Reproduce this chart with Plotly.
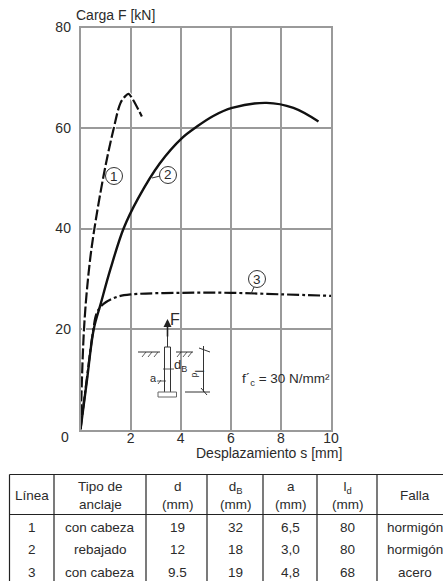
import plotly.graph_objects as go

W, H = 443, 581
X0, X1, Y0, Y1 = 80.5, 331.0, 429.5, 27.5

s1 = [0, 0.14, 0.32, 0.51, 0.94, 1.33, 1.6, 1.8, 1.92, 2.05, 2.45]
f1 = [0, 20, 31, 38.5, 51, 60, 65, 66.4, 66.8, 66, 62.3]
s2 = [0, 0.25, 0.53, 0.8, 1.2, 1.72, 2.3, 3.17, 4.05, 4.65, 5.3, 6.05, 7.43, 8.5, 9.5]
f2 = [0, 9.5, 20, 24.9, 32, 40, 46, 53, 58, 60.3, 62.4, 64, 65, 64, 61.3]
s3 = [0, 0.25, 0.5, 0.65, 0.92, 1.46, 2.05, 4, 6, 8, 10]
f3 = [0, 10, 19.5, 23.2, 25, 26.4, 26.9, 27.2, 27.2, 26.9, 26.6]

x_ticks = [2, 4, 6, 8, 10]
y_ticks = [20, 40, 60, 80]

table_header = ["Línea", "Tipo de<br>anclaje", "d<br>(mm)", "d<sub>B</sub><br>(mm)",
                "a<br>(mm)", "l<sub>d</sub><br>(mm)", "Falla"]
linea = ["1", "2", "3"]
tipo = ["con cabeza", "rebajado", "con cabeza"]
d = ["19", "12", "9.5"]
d_b = ["32", "18", "19"]
a = ["6,5", "3,0", "4,8"]
l_d = ["80", "80", "68"]
falla = ["hormigón", "hormigón", "acero"]

INK = "#2b2b2b"
GRID = "#9a9a9a"
FONT = "Liberation Sans"


def dx(px):
    return (px - X0) / (X1 - X0) * 10


def dy(py):
    return (Y0 - py) / (Y0 - Y1) * 80


def pxx(px):
    return px / W


def pxy(py):
    return 1 - py / H


fig = go.Figure()
fig.add_trace(go.Scatter(x=s1, y=f1, mode="lines", line=dict(color="#ffffff", width=4, shape="spline", smoothing=1), hoverinfo="skip"))
fig.add_trace(go.Scatter(x=s2, y=f2, mode="lines", line=dict(color="#111111", width=2.4, shape="spline", smoothing=1)))
fig.add_trace(go.Scatter(x=s1, y=f1, mode="lines", line=dict(color="#111111", width=2.2, dash="11px,3px", shape="spline", smoothing=1)))
fig.add_trace(go.Scatter(x=s3, y=f3, mode="lines", line=dict(color="#111111", width=2.2, dash="12px,3px,3px,3px", shape="spline", smoothing=1)))

shapes = []


def line(x0, y0, x1, y1, color="#333333", width=1, layer="above"):
    shapes.append(dict(type="line", xref="x", yref="y", x0=dx(x0), y0=dy(y0), x1=dx(x1), y1=dy(y1),
                       line=dict(color=color, width=width), layer=layer))


# white gap behind the inset drawing
shapes.append(dict(type="rect", xref="x", yref="y", x0=dx(156), x1=dx(183.5), y0=dy(429), y1=dy(304),
                   fillcolor="white", line=dict(width=0), layer="below"))

# anchor sketch
line(164.5, 347, 164.5, 392)
line(170.5, 347, 170.5, 392)
line(164.5, 347, 170.5, 347)
line(167.5, 347, 167.5, 326, width=1)
line(138, 352, 160, 352)
line(176, 352, 193, 352)
for hx in [146, 152, 158, 181, 187, 192]:
    line(hx, 352, hx - 4, 357, width=0.8)
for px0, py0, px1, py1 in [(158, 392, 176.5, 392), (158, 392, 158, 397), (176.5, 392, 176.5, 397), (158, 397, 176.5, 397)]:
    line(px0, py0, px1, py1, color="#666666")
line(185, 392, 210, 392)
line(203.5, 346, 203.5, 392)
line(199, 348, 210, 352)
line(201, 388, 207, 395)
line(163, 369, 174, 369, width=0.8)
line(157, 381, 166, 381, width=0.8)
line(158, 384, 161, 380, width=0.8)

# table rules
cols = [9.5, 54, 146, 207, 263, 317, 377]
shapes.append(dict(type="line", xref="paper", yref="paper", x0=pxx(9.5), x1=1, y0=pxy(474.5), y1=pxy(474.5), line=dict(color="#222222", width=1.2)))
shapes.append(dict(type="line", xref="paper", yref="paper", x0=pxx(9.5), x1=1, y0=pxy(514.5), y1=pxy(514.5), line=dict(color="#222222", width=1.2)))
for c in cols:
    shapes.append(dict(type="line", xref="paper", yref="paper", x0=pxx(c), x1=pxx(c), y0=pxy(474.5), y1=0, line=dict(color="#222222", width=1.2)))

ann = []


def text(px, py, s, size=13.5, anchor="center"):
    ann.append(dict(xref="paper", yref="paper", x=pxx(px), y=pxy(py), text=s, showarrow=False,
                    xanchor=anchor, yanchor="middle", align="center",
                    font=dict(family=FONT, size=size, color=INK), borderpad=0, borderwidth=0))


centers = [32, 100, 177, 235, 290, 347, 415]
for cx, h in zip(centers, table_header):
    text(cx, 495, h)
for ry, row in zip([527, 549, 572], zip(linea, tipo, d, d_b, a, l_d, falla)):
    for cx, v in zip(centers, row):
        text(cx, ry, v)

text(65, 437, "0", size=14)
text(76, 15, "Carga F [kN]", size=14, anchor="left")
text(196, 453, "Desplazamiento s [mm]", size=14, anchor="left")
text(242, 379, "f´<sub>c</sub> = 30 N/mm²", size=13.5, anchor="left")
text(175, 320, "F", size=16)
text(180, 365, "d<sub>B</sub>", size=13)
text(153, 378, "a", size=11)
text(198, 374, "l<sub>d</sub>", size=12)
ann[-1]["textangle"] = 90

for cx, cy, s in [(114, 176, "1"), (168, 175, "2"), (257, 279, "3")]:
    shapes.append(dict(type="circle", xref="x", yref="y", x0=dx(cx - 8.5), x1=dx(cx + 8.5),
                       y0=dy(cy + 8.5), y1=dy(cy - 8.5), fillcolor="white", line=dict(color="#333333", width=1), layer="above"))
    text(cx, cy, s, size=13.5)
line(152, 178, 160, 176)
line(251, 294, 254, 287)

ann.append(dict(xref="x", yref="y", ax=dx(167.5), ay=dy(338), axref="x", ayref="y", x=dx(167.5), y=dy(319),
                text="", showarrow=True, arrowhead=2, arrowsize=1, arrowwidth=1.6, arrowcolor="#222222"))

axis = dict(showgrid=True, gridcolor=GRID, gridwidth=1.5, showline=True, linecolor=GRID, linewidth=1.5,
            mirror=True, zeroline=False, ticks="", fixedrange=True, automargin=False,
            tickfont=dict(family=FONT, size=14, color=INK))
fig.update_layout(
    width=W, height=H, autosize=False,
    margin=dict(l=0, r=0, t=0, b=0),
    paper_bgcolor="white", plot_bgcolor="white", showlegend=False,
    xaxis=dict(axis, domain=[pxx(X0), pxx(X1)], range=[0, 10], tickvals=x_ticks, ticklabelstandoff=-5),
    yaxis=dict(axis, domain=[pxy(Y0), pxy(Y1)], range=[0, 80], tickvals=y_ticks, ticklabelstandoff=5),
    shapes=shapes, annotations=ann,
)
fig.write_html("out.html", post_script="document.body.style.margin='0';", config=dict(displayModeBar=False))
